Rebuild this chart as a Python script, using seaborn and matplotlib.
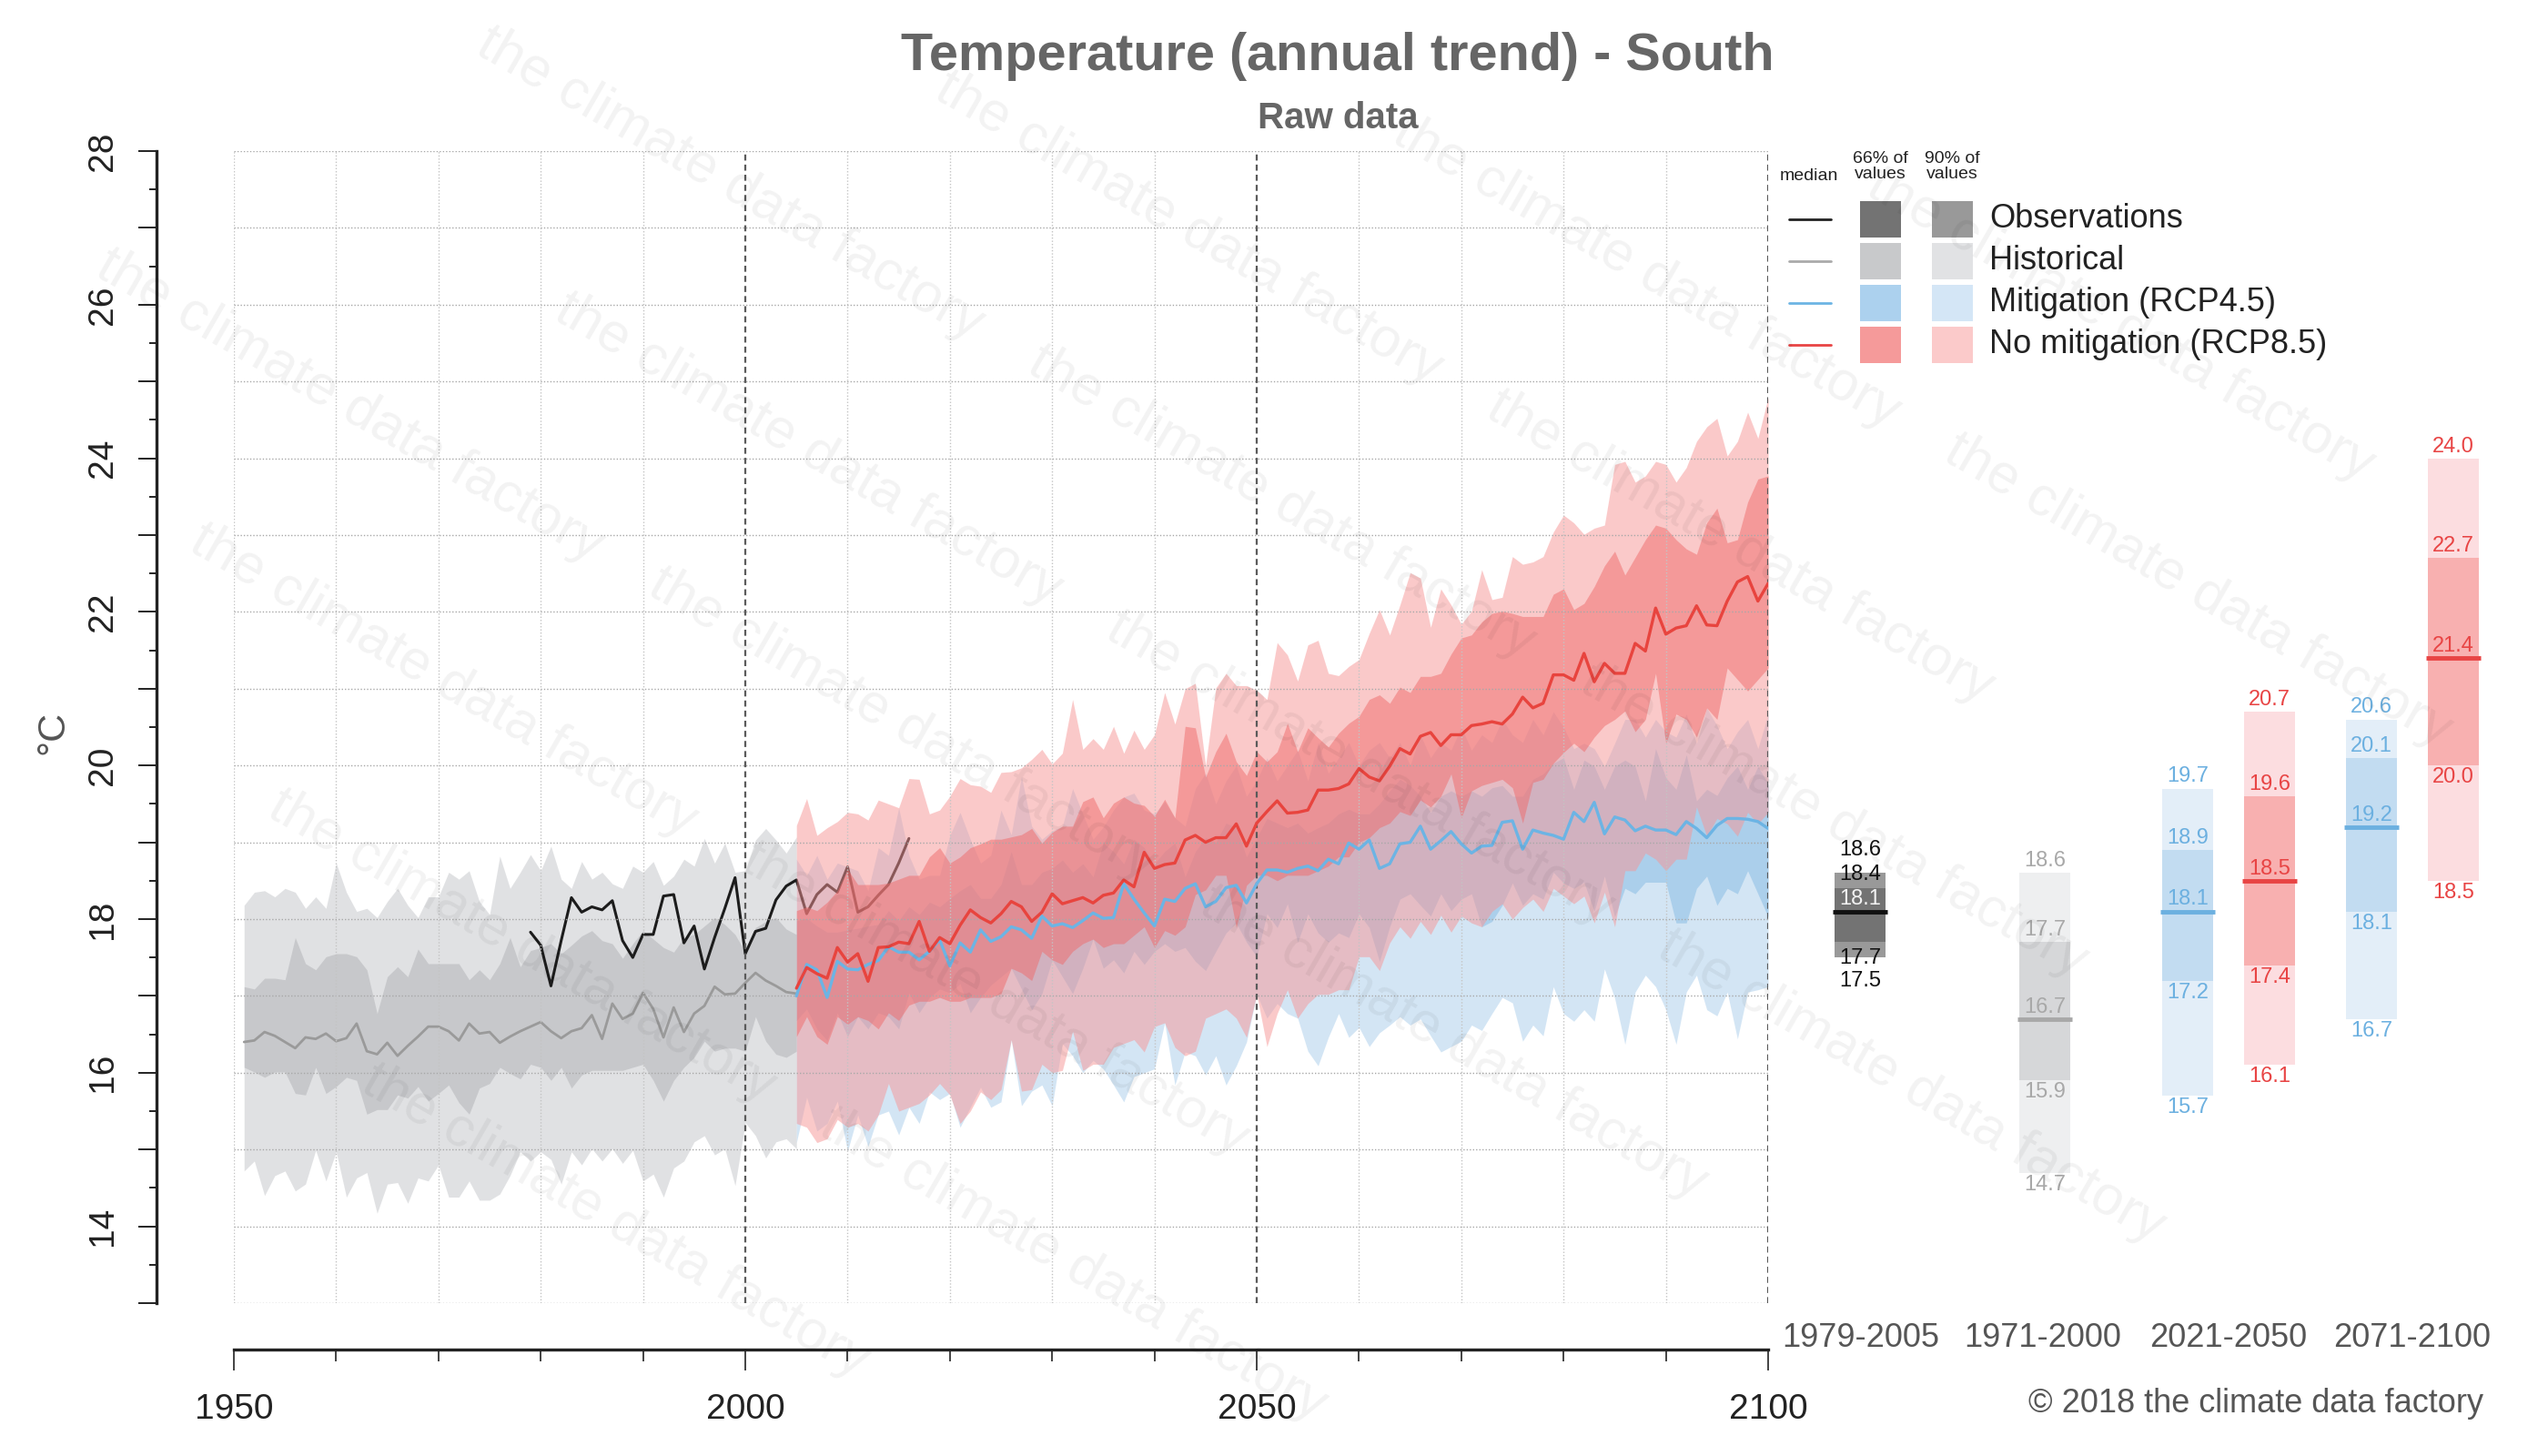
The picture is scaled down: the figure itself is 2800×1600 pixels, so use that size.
import numpy as np
import pandas as pd
import matplotlib
matplotlib.use("Agg")
import matplotlib.pyplot as plt
import seaborn as sns
from matplotlib.lines import Line2D
from matplotlib.patches import Rectangle
from matplotlib.ticker import MultipleLocator, FixedLocator, FuncFormatter

# ---------------------------------------------------------------- data
hist_years = list(range(1951, 2006))
hist_med = [16.40, 16.42, 16.53, 16.48, 16.40, 16.32, 16.46, 16.44, 16.51, 16.41,
            16.45, 16.64, 16.28, 16.24, 16.39, 16.22, 16.35, 16.47, 16.60, 16.60,
            16.54, 16.42, 16.64, 16.51, 16.53, 16.39, 16.47, 16.54, 16.60, 16.66,
            16.54, 16.45, 16.54, 16.58, 16.75, 16.44, 16.90, 16.70, 16.77, 17.04,
            16.83, 16.46, 16.85, 16.53, 16.77, 16.87, 17.12, 17.02, 17.03, 17.17,
            17.30, 17.20, 17.13, 17.05, 17.03]
hist_hi66 = [17.12, 17.09, 17.23, 17.23, 17.21, 17.76, 17.42, 17.34, 17.51, 17.55,
             17.55, 17.51, 17.34, 16.77, 17.25, 17.38, 17.25, 17.61, 17.42, 17.42,
             17.42, 17.42, 17.21, 17.34, 17.21, 17.42, 17.76, 17.38, 17.59, 17.63,
             17.68, 17.55, 17.66, 17.78, 17.85, 17.72, 17.68, 17.49, 17.68, 17.85,
             17.74, 17.63, 17.57, 17.76, 17.80, 17.91, 18.02, 17.93, 17.80, 17.57,
             17.89, 17.97, 18.02, 17.87, 17.80]
hist_lo66 = [16.07, 16.01, 15.94, 16.01, 16.01, 15.73, 15.71, 16.07, 15.73, 15.82,
             15.94, 15.90, 15.46, 15.52, 15.52, 15.71, 15.67, 15.82, 15.63, 15.73,
             15.84, 15.61, 15.46, 15.80, 15.86, 16.07, 15.99, 15.92, 16.11, 16.07,
             15.90, 16.07, 15.80, 15.97, 16.03, 16.03, 16.03, 16.03, 16.07, 16.11,
             15.90, 15.63, 15.90, 16.07, 16.20, 16.41, 16.28, 16.32, 16.32, 16.28,
             16.73, 16.41, 16.24, 16.20, 16.28]
hist_hi90 = [18.18, 18.35, 18.37, 18.29, 18.40, 18.35, 18.14, 18.29, 18.14, 18.73,
             18.35, 18.10, 18.14, 18.02, 18.23, 18.40, 18.18, 18.02, 18.29, 18.29,
             18.61, 18.52, 18.63, 18.23, 18.06, 18.82, 18.40, 18.61, 18.84, 18.63,
             18.95, 18.52, 18.40, 18.75, 18.52, 18.61, 18.46, 18.40, 18.69, 18.61,
             18.75, 18.44, 18.56, 18.78, 18.69, 19.05, 18.73, 18.99, 18.61, 18.63,
             19.03, 19.18, 19.03, 18.86, 19.07]
hist_lo90 = [14.72, 14.85, 14.40, 14.66, 14.72, 14.46, 14.55, 14.99, 14.59, 14.97,
             14.38, 14.63, 14.70, 14.17, 14.55, 14.57, 14.30, 14.63, 14.59, 14.80,
             14.38, 14.38, 14.59, 14.34, 14.34, 14.42, 14.66, 14.97, 14.85, 14.97,
             14.87, 14.55, 14.97, 14.80, 15.01, 14.85, 15.01, 14.82, 14.99, 14.59,
             14.68, 14.38, 14.76, 14.85, 15.10, 15.18, 14.93, 15.01, 14.53, 15.35,
             15.18, 14.89, 15.10, 15.14, 15.01]

obs_years = list(range(1979, 2017))
obs_vals = [17.83, 17.66, 17.13, 17.72, 18.28, 18.09, 18.16, 18.12, 18.24, 17.72,
            17.50, 17.80, 17.80, 18.30, 18.32, 17.69, 17.91, 17.35, 17.76, 18.14,
            18.54, 17.55, 17.84, 17.88, 18.25, 18.43, 18.51, 18.07, 18.32, 18.45,
            18.35, 18.68, 18.09, 18.16, 18.31, 18.45, 18.73, 19.05]

rcp_years = list(range(2005, 2101))
r85_med = [17.10, 17.37, 17.29, 17.23, 17.63, 17.44, 17.55, 17.19, 17.63, 17.64,
           17.70, 17.68, 17.97, 17.58, 17.76, 17.68, 17.92, 18.12, 18.02, 17.95,
           18.07, 18.23, 18.16, 17.97, 18.09, 18.33, 18.20, 18.24, 18.28, 18.21,
           18.31, 18.34, 18.51, 18.42, 18.87, 18.66, 18.71, 18.73, 19.03, 19.09,
           19.00, 19.06, 19.06, 19.24, 18.95, 19.25, 19.40, 19.54, 19.38, 19.39,
           19.42, 19.68, 19.68, 19.70, 19.76, 19.96, 19.85, 19.80, 19.99, 20.22,
           20.15, 20.38, 20.43, 20.26, 20.40, 20.40, 20.52, 20.54, 20.57, 20.54,
           20.67, 20.89, 20.75, 20.81, 21.18, 21.18, 21.11, 21.46, 21.09, 21.33,
           21.20, 21.20, 21.59, 21.49, 22.05, 21.71, 21.79, 21.82, 22.08, 21.83,
           21.82, 22.14, 22.39, 22.46, 22.14, 22.37]
r85_hi66 = [18.11, 18.16, 18.11, 18.22, 18.37, 18.65, 18.45, 18.45, 18.45, 18.47,
            18.52, 18.57, 18.57, 18.81, 18.93, 18.73, 18.81, 18.93, 18.98, 19.04,
            19.04, 19.07, 19.10, 19.18, 18.99, 19.13, 19.21, 19.21, 19.53, 19.59,
            19.32, 19.51, 19.59, 19.51, 19.48, 19.34, 19.56, 19.32, 20.51, 20.49,
            19.85, 20.18, 20.42, 20.05, 19.87, 20.18, 20.05, 20.18, 20.55, 20.18,
            20.49, 20.36, 20.24, 20.42, 20.55, 20.64, 20.86, 20.92, 20.81, 21.02,
            20.95, 21.16, 21.16, 21.20, 21.45, 21.66, 21.70, 21.87, 21.98, 22.01,
            21.98, 21.94, 21.94, 21.94, 22.23, 22.30, 22.03, 22.11, 22.33, 22.60,
            22.79, 22.48, 22.71, 22.94, 23.13, 23.09, 22.94, 22.82, 22.75, 23.16,
            23.35, 22.90, 22.94, 23.43, 23.73, 23.77]
r85_hi90 = [19.22, 19.57, 19.09, 19.19, 19.27, 19.39, 19.37, 19.29, 19.55, 19.50,
            19.45, 19.83, 19.82, 19.37, 19.42, 19.60, 19.83, 19.75, 19.73, 19.65,
            19.91, 19.92, 19.97, 20.08, 20.21, 20.02, 20.16, 20.86, 20.21, 20.35,
            20.21, 20.51, 20.16, 20.46, 20.21, 20.40, 20.95, 20.54, 21.00, 21.07,
            20.00, 21.01, 21.20, 21.04, 21.04, 20.98, 20.86, 21.60, 21.44, 21.10,
            21.57, 21.63, 21.20, 21.17, 21.29, 21.38, 21.72, 22.03, 21.70, 22.09,
            22.51, 22.44, 21.80, 22.30, 22.09, 21.84, 22.01, 22.55, 22.16, 22.19,
            22.72, 22.62, 22.65, 22.72, 23.04, 23.26, 23.16, 23.01, 23.09, 23.13,
            23.92, 23.96, 23.69, 23.77, 23.96, 23.92, 23.69, 23.88, 24.22, 24.41,
            24.52, 24.03, 24.22, 24.60, 24.26, 24.79]
r85_lo66 = [16.47, 16.73, 16.47, 16.37, 16.73, 16.63, 16.73, 16.68, 16.57, 16.78,
            16.68, 16.88, 16.93, 16.93, 16.98, 16.93, 16.93, 16.98, 16.98, 16.98,
            17.03, 17.36, 17.30, 17.20, 17.58, 17.47, 17.41, 17.58, 17.68, 17.74,
            17.63, 17.68, 17.68, 17.79, 17.90, 17.63, 17.85, 17.79, 17.90, 18.32,
            18.38, 18.57, 18.57, 17.89, 18.44, 18.57, 18.57, 18.50, 18.57, 18.57,
            18.57, 18.63, 18.69, 18.81, 18.81, 19.00, 19.06, 19.19, 19.25, 19.40,
            19.35, 19.55, 19.46, 19.60, 19.89, 19.32, 19.67, 19.74, 19.78, 19.82,
            19.71, 19.25, 19.78, 19.82, 20.03, 20.17, 20.29, 20.18, 20.37, 20.52,
            20.60, 20.71, 20.44, 20.60, 21.20, 20.29, 20.67, 20.60, 20.37, 20.75,
            20.60, 21.27, 21.12, 20.97, 21.12, 21.27]
r85_lo90 = [15.34, 15.29, 15.09, 15.14, 15.39, 15.29, 15.34, 15.24, 15.45, 15.86,
            15.50, 15.55, 15.60, 15.71, 15.86, 15.71, 15.34, 15.50, 15.75, 15.65,
            15.78, 16.43, 15.76, 15.78, 16.11, 16.00, 16.03, 16.54, 16.03, 16.11,
            16.11, 16.33, 16.38, 16.43, 16.27, 16.60, 16.65, 16.33, 16.22, 16.28,
            16.71, 16.77, 16.83, 16.71, 16.46, 17.02, 16.34, 16.77, 17.08, 16.71,
            16.90, 17.02, 17.02, 17.08, 17.08, 17.51, 17.51, 17.33, 17.69, 17.90,
            17.75, 17.97, 17.80, 18.05, 17.83, 18.04, 17.95, 17.90, 18.10, 18.20,
            18.00, 18.15, 18.26, 18.10, 18.40, 18.30, 18.20, 18.30, 17.95, 18.35,
            17.90, 18.63, 18.63, 18.86, 18.78, 18.63, 18.78, 18.78, 19.46, 19.08,
            19.31, 19.24, 19.08, 19.39, 19.24, 19.39]

r45_med = [17.00, 17.41, 17.34, 16.98, 17.45, 17.35, 17.34, 17.41, 17.46, 17.64,
           17.57, 17.57, 17.47, 17.58, 17.73, 17.39, 17.69, 17.57, 17.86, 17.71,
           17.77, 17.90, 17.86, 17.75, 18.04, 17.91, 17.94, 17.89, 17.98, 18.08,
           18.01, 18.02, 18.46, 18.26, 18.08, 17.91, 18.26, 18.23, 18.40, 18.46,
           18.16, 18.23, 18.41, 18.44, 18.21, 18.46, 18.64, 18.64, 18.61, 18.66,
           18.69, 18.63, 18.78, 18.72, 18.99, 18.91, 19.03, 18.66, 18.72, 18.98,
           19.00, 19.21, 18.91, 19.02, 19.14, 18.98, 18.86, 18.95, 18.96, 19.26,
           19.28, 18.91, 19.16, 19.12, 19.09, 19.04, 19.39, 19.27, 19.52, 19.11,
           19.33, 19.29, 19.15, 19.21, 19.16, 19.16, 19.10, 19.27, 19.18, 19.06,
           19.22, 19.31, 19.31, 19.30, 19.27, 19.18]
r45_hi66 = [17.98, 18.01, 17.91, 17.83, 17.83, 17.86, 17.88, 17.91, 17.93, 18.11,
            17.98, 18.16, 18.06, 18.22, 18.16, 18.27, 18.37, 18.45, 18.27, 18.27,
            18.45, 18.88, 18.45, 18.45, 18.61, 18.66, 18.77, 18.61, 18.72, 18.55,
            18.99, 18.88, 18.72, 19.04, 18.93, 18.72, 18.88, 18.99, 18.55, 18.88,
            19.06, 19.00, 19.25, 19.19, 18.81, 19.06, 19.31, 19.25, 19.19, 19.25,
            19.12, 19.19, 19.25, 19.37, 19.43, 19.37, 19.37, 19.50, 19.67, 19.82,
            19.74, 19.60, 19.39, 19.60, 19.67, 19.60, 19.67, 19.60, 19.71, 19.74,
            19.60, 19.60, 19.82, 19.89, 20.03, 20.10, 19.69, 20.07, 19.99, 19.69,
            19.99, 20.07, 19.99, 19.54, 20.22, 19.84, 19.69, 20.14, 19.54, 19.69,
            19.61, 19.84, 19.99, 19.69, 19.99, 19.76]
r45_hi90 = [18.78, 18.57, 18.83, 18.52, 18.73, 18.68, 18.63, 18.37, 18.93, 18.83,
            19.45, 18.83, 18.52, 18.57, 18.57, 19.09, 19.39, 19.04, 18.73, 18.83,
            19.42, 19.10, 19.86, 19.21, 19.04, 19.15, 19.21, 19.70, 19.37, 19.04,
            19.20, 19.42, 19.59, 19.64, 19.42, 19.37, 19.53, 19.32, 19.21, 19.70,
            19.90, 19.50, 19.80, 20.00, 19.60, 19.80, 20.10, 19.80, 20.00, 20.20,
            19.80, 20.30, 19.90, 20.10, 20.30, 20.00, 20.20, 20.30, 20.10, 20.30,
            20.00, 20.40, 20.10, 20.30, 20.20, 20.50, 20.20, 20.40, 20.30, 20.60,
            20.40, 20.30, 20.60, 20.40, 20.70, 20.50, 20.22, 20.29, 20.22, 19.99,
            20.29, 20.60, 20.60, 20.37, 20.60, 20.44, 20.37, 20.67, 20.29, 20.75,
            20.52, 20.22, 20.44, 20.60, 20.22, 20.67]
r45_lo66 = [16.68, 16.83, 16.57, 16.42, 16.78, 16.47, 16.73, 16.57, 16.78, 16.73,
            16.57, 17.04, 16.78, 16.98, 17.09, 17.04, 17.16, 16.78, 16.98, 17.14,
            17.25, 17.36, 17.09, 16.82, 17.03, 17.47, 17.25, 17.03, 17.36, 17.74,
            17.36, 17.47, 17.30, 17.58, 17.41, 17.58, 17.68, 17.58, 17.63, 17.45,
            17.33, 17.58, 17.82, 17.95, 17.70, 17.51, 18.07, 17.89, 18.20, 17.70,
            18.07, 17.82, 17.70, 17.82, 17.76, 18.07, 17.89, 17.45, 17.90, 18.26,
            18.33, 18.18, 18.04, 18.33, 18.11, 18.26, 18.33, 17.90, 17.97, 18.18,
            18.47, 18.18, 18.33, 18.26, 18.61, 18.47, 18.40, 18.48, 18.10, 18.56,
            18.03, 18.40, 18.33, 18.48, 18.48, 18.48, 17.95, 17.95, 18.40, 18.56,
            18.18, 18.40, 18.33, 18.63, 18.33, 18.03]
r45_lo90 = [15.09, 15.68, 15.24, 15.34, 15.63, 14.98, 15.45, 15.04, 15.45, 15.50,
            15.19, 15.55, 15.34, 15.75, 15.65, 15.73, 15.29, 15.55, 15.81, 15.55,
            15.62, 16.43, 15.57, 15.76, 15.84, 15.57, 16.38, 16.22, 16.00, 16.16,
            16.05, 15.84, 15.62, 15.95, 16.00, 16.05, 16.65, 15.84, 16.27, 16.22,
            15.97, 16.22, 15.84, 16.09, 16.40, 17.02, 16.71, 16.90, 16.77, 16.71,
            16.28, 16.09, 16.46, 16.77, 16.46, 16.59, 16.34, 16.52, 16.62, 16.73,
            16.62, 16.70, 16.48, 16.27, 16.34, 16.41, 16.62, 16.55, 16.77, 16.98,
            16.91, 16.41, 16.62, 16.48, 17.12, 16.77, 16.67, 16.82, 16.67, 17.35,
            16.97, 16.37, 17.05, 17.27, 17.12, 16.82, 16.37, 17.05, 17.27, 16.82,
            16.74, 17.05, 16.44, 17.05, 17.08, 17.12]

# right-hand summary boxes
box_kind = ["obs", "hist", "rcp45", "rcp85", "rcp45", "rcp85"]
box_lo90 = [17.5, 14.7, 15.7, 16.1, 16.7, 18.5]
box_lo66 = [17.7, 15.9, 17.2, 17.4, 18.1, 20.0]
box_med = [18.1, 16.7, 18.1, 18.5, 19.2, 21.4]
box_hi66 = [18.4, 17.7, 18.9, 19.6, 20.1, 22.7]
box_hi90 = [18.6, 18.6, 19.7, 20.7, 20.6, 24.0]
period_labels = ["1979-2005", "1971-2000", "2021-2050", "2071-2100"]

legend_names = ["Observations", "Historical", "Mitigation (RCP4.5)", "No mitigation (RCP8.5)"]

# ---------------------------------------------------------------- style
sns.set_theme(style="white")
plt.rcParams["font.family"] = ["Liberation Sans", "DejaVu Sans"]

W, H = 2800, 1600
fig = plt.figure(figsize=(28, 16), dpi=100)
fig.patch.set_facecolor("white")


def fx(p):
    return p / W


def fy(p):
    return 1 - p / H


def rgb(*c):
    return tuple(v / 255 for v in c)


C_H90, C_H66 = rgb(195, 197, 201), rgb(175, 176, 180)
C_B90, C_B66 = rgb(169, 205, 235), rgb(132, 186, 227)
C_R90, C_R66 = rgb(247, 149, 149), rgb(239, 106, 106)
L_OBS, L_HIST, L_B, L_R = "#1c1c1c", "#9a9a9a", "#6cb4e4", "#e8443e"

# ---------------------------------------------------------------- main axes
ax = fig.add_axes([fx(257), fy(1432), fx(1943) - fx(257), fy(166) - fy(1432)])
ax.set_xlim(1950, 2100)
ax.set_ylim(13, 28)
ax.set_facecolor("white")

# grid
for v in range(13, 29):
    ax.axhline(v, color="#a8a8a8", lw=1.0, ls=(0, (1, 1.5)), zorder=2.5)
for yr in range(1950, 2100, 10):
    if yr in (2000, 2050):
        continue
    ax.axvline(yr, color="#c4c4c4", lw=1.0, ls=(0, (1, 1.5)), zorder=2.5)
for yr in (2000, 2050, 2100):
    ax.axvline(yr, color="#5a5a5a", lw=1.6, ls=(0, (3, 2)), zorder=2.6)

# historical bands
ax.fill_between(hist_years, hist_lo90, hist_hi90, color=C_H90, alpha=0.5, lw=0, zorder=1)
ax.fill_between(hist_years, hist_lo66, hist_hi66, color=C_H66, alpha=0.5, lw=0, zorder=1.1)

# scenario bands
ax.fill_between(rcp_years, r45_lo90, r45_hi90, color=C_B90, alpha=0.5, lw=0, zorder=1.2)
ax.fill_between(rcp_years, r45_lo66, r45_hi66, color=C_B66, alpha=0.5, lw=0, zorder=1.3)
ax.fill_between(rcp_years, r85_lo90, r85_hi90, color=C_R90, alpha=0.5, lw=0, zorder=1.6)
ax.fill_between(rcp_years, r85_lo66, r85_hi66, color=C_R66, alpha=0.5, lw=0, zorder=1.7)

# median lines through seaborn
df_hist = pd.DataFrame({"year": hist_years, "value": hist_med})
df_obs = pd.DataFrame({"year": obs_years, "value": obs_vals})
df_45 = pd.DataFrame({"year": rcp_years, "value": r45_med})
df_85 = pd.DataFrame({"year": rcp_years, "value": r85_med})
sns.lineplot(data=df_hist, x="year", y="value", ax=ax, color=L_HIST, lw=2.0, zorder=1.15)
sns.lineplot(data=df_obs, x="year", y="value", ax=ax, color=L_OBS, lw=2.2, zorder=1.4)
sns.lineplot(data=df_45, x="year", y="value", ax=ax, color=L_B, lw=2.4, zorder=3)
sns.lineplot(data=df_85, x="year", y="value", ax=ax, color=L_R, lw=2.4, zorder=3.1)
ax.set_xlabel("")
ax.set_ylabel("")

# axes / ticks
for s in ("top", "right"):
    ax.spines[s].set_visible(False)
ax.spines["left"].set_position(("outward", 61))
ax.spines["bottom"].set_position(("outward", 37))
for s in ("left", "bottom"):
    ax.spines[s].set_linewidth(2.4)
    ax.spines[s].set_color("#222222")

ax.xaxis.set_major_locator(FixedLocator([1950, 2000, 2050, 2100]))
ax.xaxis.set_minor_locator(MultipleLocator(10))
ax.yaxis.set_major_locator(MultipleLocator(1))
ax.yaxis.set_minor_locator(MultipleLocator(0.5))
ax.yaxis.set_major_formatter(FuncFormatter(lambda v, p: f"{int(round(v))}" if int(round(v)) % 2 == 0 else ""))
ax.tick_params(axis="x", which="major", bottom=True, length=16.5, width=1.2, color="#222222",
               labelsize=28, labelcolor="#222222", pad=18)
ax.tick_params(axis="x", which="minor", bottom=True, length=9, width=1.2, color="#222222")
ax.tick_params(axis="y", which="major", left=True, length=14.5, width=1.4, color="#222222",
               labelsize=28, labelcolor="#222222", pad=15, labelrotation=90)
ax.tick_params(axis="y", which="minor", left=True, length=5.5, width=1.4, color="#222222")
for lab in ax.get_yticklabels():
    lab.set_verticalalignment("center")

fig.text(fx(58), fy(805), "°C", rotation=90, ha="center", va="center", fontsize=31, color="#555555")

# ---------------------------------------------------------------- right summary panel
ax2 = fig.add_axes([fx(1943), fy(1432), fx(2800) - fx(1943), fy(166) - fy(1432)])
ax2.set_xlim(1943, 2800)
ax2.set_ylim(13, 28)
ax2.axis("off")

box_x = [2044, 2247, 2404, 2494, 2606, 2696]
box_w = 56
kind_style = {
    "obs": ("#999999", "#737373", "#111111", "#111111"),
    "hist": ("#eeeff0", "#d6d7d9", "#a8a8a8", "#a8a8a8"),
    "rcp45": ("#e3eef8", "#c2dcf1", "#6cb0e0", "#6cb0e0"),
    "rcp85": ("#fcdde0", "#f8b0b0", "#e84444", "#e84444"),
}
# label offsets in points: (hi90, hi66, med, lo66, lo90); observations are spread apart
lab_off = {"obs": (10.5, 3.0, 2.0, -4.5, -10.5)}
default_off = (1.5, 1.5, 1.5, -1.5, -1.5)
for i, k in enumerate(box_kind):
    c90, c66, cm, ct = kind_style[k]
    ax2.bar(box_x[i], box_hi90[i] - box_lo90[i], bottom=box_lo90[i], width=box_w, color=c90, lw=0, zorder=1)
    ax2.bar(box_x[i], box_hi66[i] - box_lo66[i], bottom=box_lo66[i], width=box_w, color=c66, lw=0, zorder=2)
    ax2.hlines(box_med[i], box_x[i] - box_w / 2 - 2, box_x[i] + box_w / 2 + 2, color=cm, lw=3.5, zorder=3)
    offs = lab_off.get(k, default_off)
    vals = (box_hi90[i], box_hi66[i], box_med[i], box_lo66[i], box_lo90[i])
    for j, (v, o) in enumerate(zip(vals, offs)):
        col = "#f2f2f2" if (k == "obs" and j == 2) else ct
        ax2.annotate(f"{v:.1f}", (box_x[i], v), xytext=(0, o), textcoords="offset points",
                     ha="center", va="bottom" if j < 3 else "top", fontsize=17, color=col, zorder=4)

period_x = [2045, 2245, 2449, 2651]
for px, lab in zip(period_x, period_labels):
    fig.text(fx(px), fy(1470), lab, ha="center", va="center", fontsize=26, color="#555555")

fig.text(fx(2479), fy(1543), "© 2018 the climate data factory", ha="center", va="center",
         fontsize=26, color="#555555")

# ---------------------------------------------------------------- titles
fig.text(fx(1470), fy(62), "Temperature (annual trend) - South", ha="center", va="center",
         fontsize=41.5, fontweight="bold", color="#666666")
fig.text(fx(1470), fy(130), "Raw data", ha="center", va="center",
         fontsize=29, fontweight="bold", color="#666666")

# ---------------------------------------------------------------- legend
fig.text(fx(1988), fy(194), "median", ha="center", va="center", fontsize=14, color="#222222")
fig.text(fx(2066), fy(183), "66% of\nvalues", ha="center", va="center", fontsize=14,
         color="#222222", linespacing=1.0)
fig.text(fx(2145), fy(183), "90% of\nvalues", ha="center", va="center", fontsize=14,
         color="#222222", linespacing=1.0)
leg_rows = [241, 287, 333, 379]
leg_line = ["#222222", "#aaaaaa", "#6cb4e4", "#e84444"]
leg_66 = ["#737373", "#c8c9cb", "#acd1ee", "#f59a9a"]
leg_90 = ["#999999", "#e1e2e4", "#d4e6f6", "#fbcaca"]
for r, name, cl, c6, c9 in zip(leg_rows, legend_names, leg_line, leg_66, leg_90):
    fig.add_artist(Line2D([fx(1966), fx(2012)], [fy(r), fy(r)], color=cl, lw=2.0,
                          transform=fig.transFigure))
    fig.add_artist(Rectangle((fx(2044), fy(r + 20)), fx(45), 40 / H, color=c6, lw=0,
                             transform=fig.transFigure))
    fig.add_artist(Rectangle((fx(2123), fy(r + 20)), fx(45), 40 / H, color=c9, lw=0,
                             transform=fig.transFigure))
    fig.text(fx(2186), fy(r), name, ha="left", va="center", fontsize=26, color="#222222")

# ---------------------------------------------------------------- watermark (whole phrases only)
renderer = fig.canvas.get_renderer()
ang = np.deg2rad(30)
ux, uy = np.cos(ang), np.sin(ang)          # along the text (pixels, y downwards)
nx, ny = -np.sin(ang), np.cos(ang)         # across the lines
step_along, step_across = 700, 210
for j in range(-14, 18):
    for i in range(-10, 14):
        sx = i * step_along * ux + j * step_across * nx + (j % 3) * 240 * ux
        sy = i * step_along * uy + j * step_across * ny + (j % 3) * 240 * uy
        if sx < -50 or sx > W or sy < -50 or sy > H:
            continue
        t = fig.text(fx(sx), fy(sy), "the climate data factory", rotation=-30,
                     rotation_mode="anchor", ha="left", va="baseline", fontsize=44,
                     color="#000000", alpha=0.05, zorder=10)
        bb = t.get_window_extent(renderer)
        if bb.x0 < 2 or bb.x1 > W - 2 or bb.y0 < 2 or bb.y1 > H - 2:
            t.remove()

fig.savefig("out.png", dpi=100, facecolor="white")
